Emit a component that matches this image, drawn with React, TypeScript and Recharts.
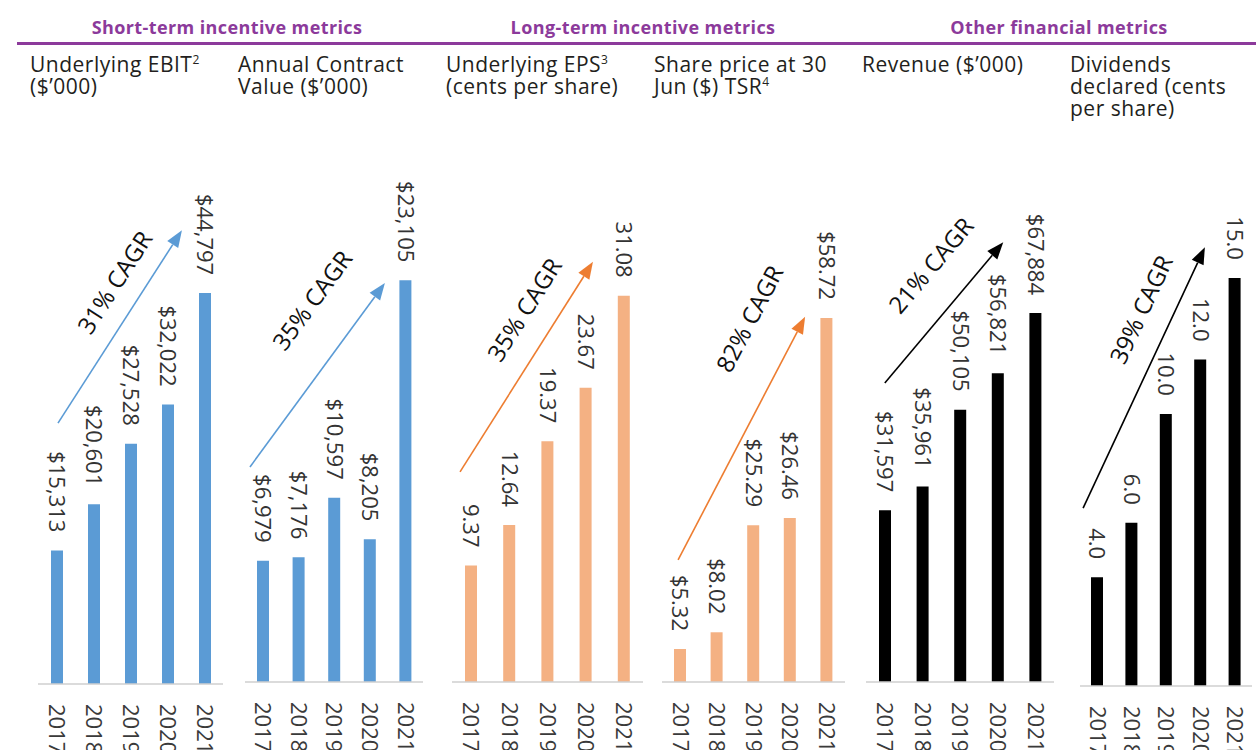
import React from 'react';
import { BarChart, Bar, XAxis, YAxis, LabelList, ReferenceLine } from 'recharts';

const years = [2017, 2018, 2019, 2020, 2021];

const ebit = [15313, 20601, 27528, 32022, 44797];
const acv = [6979, 7176, 10597, 8205, 23105];
const eps = [9.37, 12.64, 19.37, 23.67, 31.08];
const sharePrice = [5.32, 8.02, 25.29, 26.46, 58.72];
const revenue = [31597, 35961, 50105, 56821, 67884];
const dividends = [4.0, 6.0, 10.0, 12.0, 15.0];

// CAGR arrows, in data coordinates: [year, value] start and end
const ebitTrend = [[2017.04, 29900], [2020.39, 52000]];
const acvTrend = [[2016.64, 12370], [2020.43, 22950]];
const epsTrend = [[2016.71, 16.9], [2020.19, 33.8]];
const shareTrend = [[2016.94, 19.7], [2020.41, 58.9]];
const revenueTrend = [[2017.0, 55000], [2020.15, 80900]];
const dividendTrend = [[2016.59, 6.54], [2020.13, 16.13]];

const cagrLabels = ['31% CAGR', '35% CAGR', '35% CAGR', '82% CAGR', '21% CAGR', '39% CAGR'];

const groups = [
  { title: 'Short-term incentive metrics', center: 227 },
  { title: 'Long-term incentive metrics', center: 643 },
  { title: 'Other financial metrics', center: 1059 },
];

const BLUE = '#5b9bd5';
const PEACH = '#f4b183';
const ORANGE = '#ed7d31';
const PURPLE = '#8c3a9b';
const FONT = '"Open Sans", sans-serif';

const PAD = 30;
const TOP = 150;

const thousands = (v: number) => '$' + v.toLocaleString('en-US');
const cents = (v: number) => v.toFixed(2);
const dollars = (v: number) => '$' + v.toFixed(2);
const oneDp = (v: number) => v.toFixed(1);

const panels = [
  { values: ebit, color: BLUE, arrowColor: BLUE, plotLeft: 38, plotRight: 223, baseline: 684, yMax: 61200, format: thousands, trend: ebitTrend, cagr: cagrLabels[0], textT: 0.65, textOff: 28 },
  { values: acv, color: BLUE, arrowColor: BLUE, plotLeft: 245, plotRight: 423, baseline: 682, yMax: 30600, format: thousands, trend: acvTrend, cagr: cagrLabels[1], textT: 0.75, textOff: 48 },
  { values: eps, color: PEACH, arrowColor: ORANGE, plotLeft: 452, plotRight: 643, baseline: 682, yMax: 42.8, format: cents, trend: epsTrend, cagr: cagrLabels[2], textT: 0.69, textOff: 32 },
  { values: sharePrice, color: PEACH, arrowColor: ORANGE, plotLeft: 662, plotRight: 845, baseline: 682, yMax: 85.8, format: dollars, trend: shareTrend, cagr: cagrLabels[3], textT: 0.9, textOff: 48 },
  { values: revenue, color: '#000', arrowColor: '#000', plotLeft: 866, plotRight: 1054, baseline: 682, yMax: 97870, format: thousands, trend: revenueTrend, cagr: cagrLabels[4], textT: 0.65, textOff: 40 },
  { values: dividends, color: '#000', arrowColor: '#000', plotLeft: 1080, plotRight: 1252, baseline: 686, yMax: 19.7, format: oneDp, trend: dividendTrend, cagr: cagrLabels[5], textT: 0.71, textOff: 31 },
];

const supStyle: React.CSSProperties = { fontSize: 12, lineHeight: 0, verticalAlign: 'baseline', position: 'relative', top: -8, letterSpacing: 0 };

const subtitles = [
  <>Underlying EBIT<span style={supStyle}>2</span><br />($’000)</>,
  <>Annual Contract<br />Value ($’000)</>,
  <>Underlying EPS<span style={supStyle}>3</span><br />(cents per share)</>,
  <>Share price at 30<br />Jun ($) TSR<span style={supStyle}>4</span></>,
  <>Revenue ($’000)</>,
  <>Dividends<br />declared (cents<br />per share)</>,
];

function YearTick(props: any) {
  const { x, y, payload } = props;
  return (
    <text
      x={x}
      y={y}
      transform={`rotate(90, ${x}, ${y})`}
      dx={12}
      dy="0.35em"
      textAnchor="start"
      fontFamily={FONT}
      fontSize={22}
      fill="#3a3a3a"
    >
      {payload.value}
    </text>
  );
}

const valueLabel = (format: (v: number) => string) => (props: any) => {
  const vb = props.viewBox || props;
  const x = (vb.x ?? props.x) + (vb.width ?? props.width) / 2;
  const y = (vb.y ?? props.y) - 18;
  return (
    <text
      x={x}
      y={y}
      transform={`rotate(90, ${x}, ${y})`}
      dy="0.35em"
      textAnchor="end"
      fontFamily={FONT}
      fontSize={22}
      fill="#333"
    >
      {format(Number(props.value))}
    </text>
  );
};

const trendArrow = (color: string, label: string, t: number, off: number) => (props: any) => {
  const { x1, y1, x2, y2 } = props;
  const dx = x2 - x1;
  const dy = y2 - y1;
  const len = Math.sqrt(dx * dx + dy * dy);
  const ux = dx / len;
  const uy = dy / len;
  const head = 17;
  const half = 6.5;
  const bx = x2 - ux * head;
  const by = y2 - uy * head;
  const px = uy;
  const py = -ux;
  const tx = x1 + dx * t + px * off;
  const ty = y1 + dy * t + py * off;
  const angle = (Math.atan2(dy, dx) * 180) / Math.PI;
  return (
    <g>
      <line x1={x1} y1={y1} x2={bx} y2={by} stroke={color} strokeWidth={1.6} />
      <polygon
        points={`${x2},${y2} ${bx + px * half},${by + py * half} ${bx - px * half},${by - py * half}`}
        fill={color}
      />
      <text
        x={tx}
        y={ty}
        transform={`rotate(${angle}, ${tx}, ${ty})`}
        textAnchor="middle"
        dy="0.35em"
        fontFamily={FONT}
        fontSize={24}
        fill="#111"
      >
        {label}
      </text>
    </g>
  );
};

function MetricPanel({ p }: { p: (typeof panels)[number] }) {
  const data = years.map((year, i) => ({ year, value: p.values[i] }));
  const width = p.plotRight - p.plotLeft + PAD * 2;
  return (
    <div style={{ position: 'absolute', left: p.plotLeft - PAD, top: 0 }}>
      <BarChart
        width={width}
        height={750}
        data={data}
        margin={{ top: TOP, right: PAD, left: PAD, bottom: 0 }}
        style={{ overflow: 'visible' }}
      >
        <XAxis
          type="number"
          dataKey="year"
          domain={[2016.5, 2021.5]}
          ticks={years}
          interval={0}
          height={750 - p.baseline}
          axisLine={{ stroke: '#cfcfcf', strokeWidth: 1.5 }}
          tickLine={false}
          tick={<YearTick />}
        />
        <YAxis hide domain={[0, p.yMax]} />
        <Bar dataKey="value" fill={p.color} barSize={12} isAnimationActive={false}>
          <LabelList dataKey="value" content={valueLabel(p.format)} />
        </Bar>
        <ReferenceLine
          segment={[
            { x: p.trend[0][0], y: p.trend[0][1] },
            { x: p.trend[1][0], y: p.trend[1][1] },
          ]}
          ifOverflow="visible"
          shape={trendArrow(p.arrowColor, p.cagr, p.textT, p.textOff)}
        />
      </BarChart>
    </div>
  );
}

export default function App() {
  return (
    <div
      style={{
        position: 'absolute',
        left: 0,
        top: 0,
        width: 1256,
        height: 750,
        overflow: 'hidden',
        background: '#fff',
        fontFamily: FONT,
      }}
    >
      {groups.map((g) => (
        <div
          key={g.title}
          style={{
            position: 'absolute',
            left: g.center - 200,
            width: 400,
            top: 15,
            textAlign: 'center',
            color: PURPLE,
            fontWeight: 700,
            fontSize: 18,
            letterSpacing: 0.4,
            lineHeight: '24px',
          }}
        >
          {g.title}
        </div>
      ))}
      <div style={{ position: 'absolute', left: 17, right: 0, top: 42, height: 3, background: PURPLE }} />
      {subtitles.map((s, i) => (
        <div
          key={i}
          style={{
            position: 'absolute',
            left: 30 + i * 208,
            top: 53,
            width: 205,
            color: '#231f20',
            fontSize: 21,
            lineHeight: '22px',
            letterSpacing: 0.5,
            whiteSpace: 'nowrap',
          }}
        >
          {s}
        </div>
      ))}
      {panels.map((p, i) => (
        <MetricPanel key={i} p={p} />
      ))}
    </div>
  );
}
